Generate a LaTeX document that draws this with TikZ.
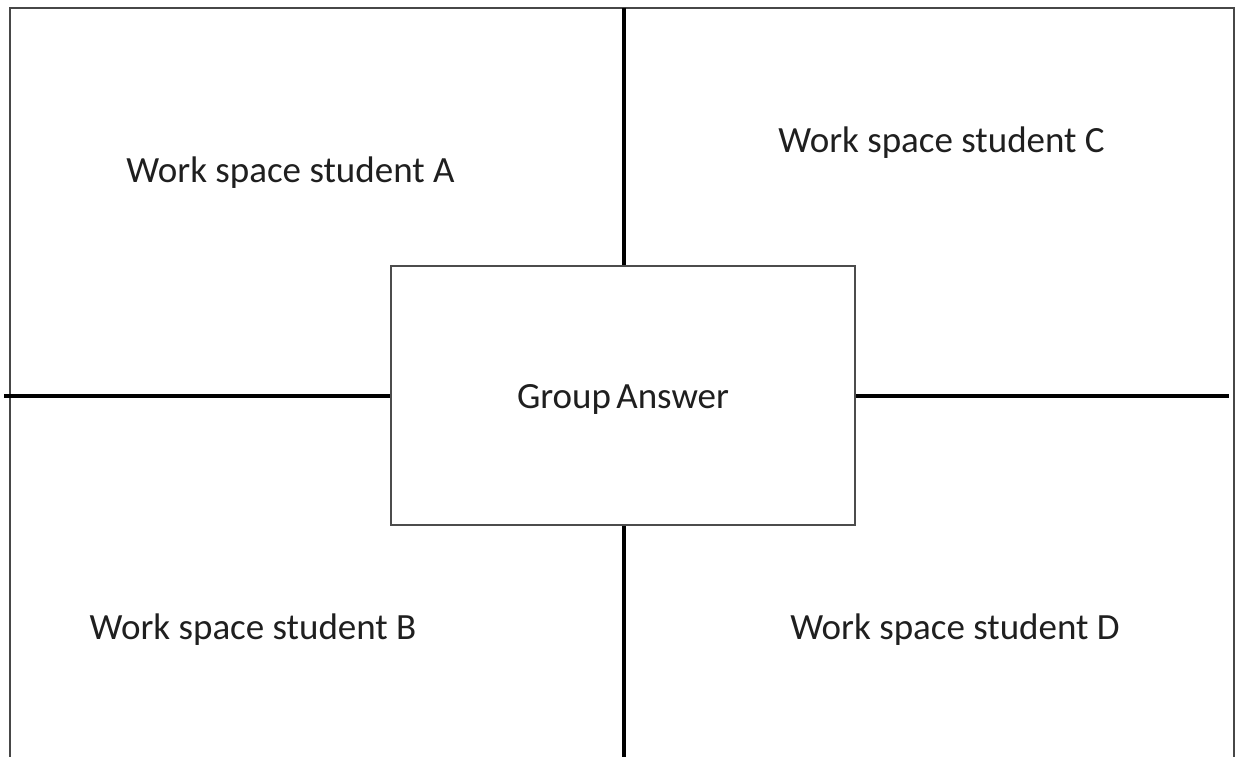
\documentclass[tikz,border=0pt]{standalone}
\usepackage{fontspec}
\setmainfont{Carlito}
\begin{document}
\begin{tikzpicture}[x=1pt,y=-1pt,
  frame/.style={draw=black!72,line width=2pt},
  divider/.style={draw=black,line width=3.5pt},
  label/.style={font=\fontsize{37}{44}\selectfont,text=black!88,inner sep=0pt,anchor=base},
  answer/.style={draw=black!70,line width=1.6pt,fill=white,minimum width=464pt,minimum height=259pt,inner sep=0pt}]
\useasboundingbox (0,0) rectangle (1236,757);
\coordinate (tl) at (10,8);
\coordinate (tr) at (1234,8);
\coordinate (bl) at (10,757);
\coordinate (br) at (1234,757);
\draw[frame] (bl) -- (tl) -- (tr) -- (br);
\coordinate (vt) at (624,8);
\coordinate (vb) at (624,757);
\coordinate (hl) at (4,396);
\coordinate (hr) at (1229,396);
\draw[divider] (vt) -- (vb);
\draw[divider] (hl) -- (hr);
\node[answer] (g) at (623,395.5) {};
\node[label] (gt) at (623,408) {Group\hspace{-3pt} Answer};
\node[label] (a) at (290.5,182) {Work space student A};
\node[label] (c) at (941.5,153) {Work space student C};
\node[label] (b) at (253,639) {Work space student B};
\node[label] (d) at (955,639) {Work space student D};
\end{tikzpicture}
\end{document}
